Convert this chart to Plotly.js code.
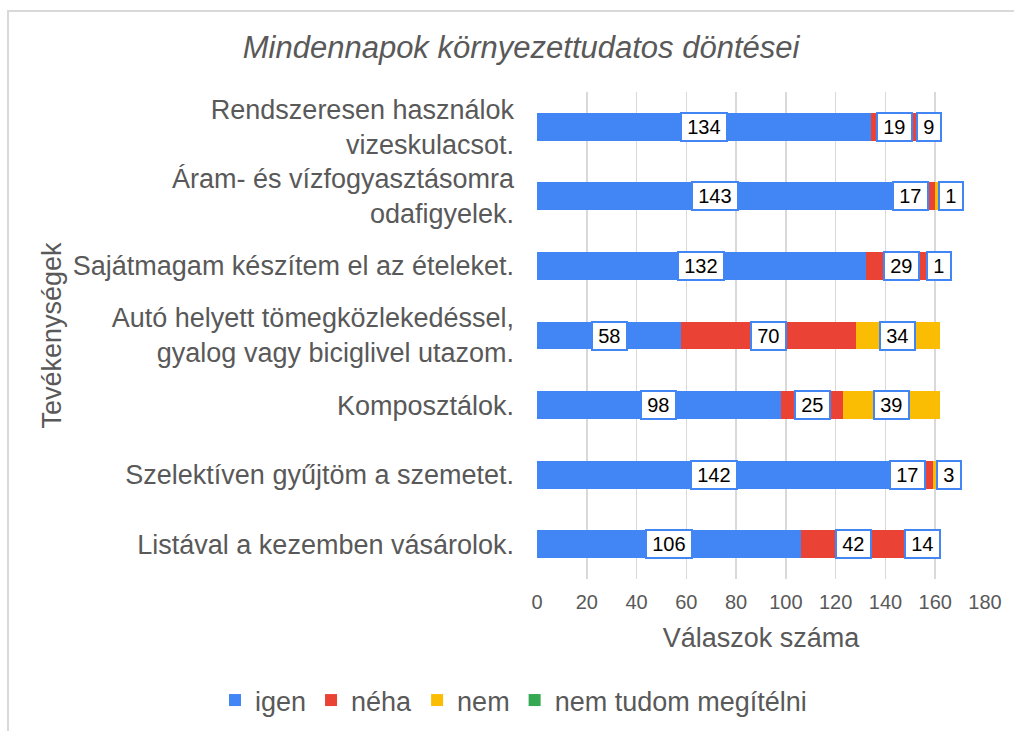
<!DOCTYPE html>
<html>
<head>
<meta charset="utf-8">
<script src="https://cdn.plot.ly/plotly-3.0.1.min.js"></script>
<style>
  html, body { margin: 0; padding: 0; background: #ffffff; overflow: hidden; }
  #wrap { position: absolute; left: 7px; top: 10px; border-left: 2px solid #d9d9d9; border-top: 2px solid #d9d9d9; }
  #chart { width: 1010px; height: 725px; }
</style>
</head>
<body>
<div id="wrap"><div id="chart"></div></div>
<script>
// ---- data ----
const categories = [
  "Rendszeresen használok<br>vizeskulacsot.",
  "Áram- és vízfogyasztásomra<br>odafigyelek.",
  "Sajátmagam készítem el az ételeket.",
  "Autó helyett tömegközlekedéssel,<br>gyalog vagy biciglivel utazom.",
  "Komposztálok.",
  "Szelektíven gyűjtöm a szemetet.",
  "Listával a kezemben vásárolok."
];
const seriesNames = ["igen", "néha", "nem", "nem tudom megítélni"];
const igen = [134, 143, 132, 58, 98, 142, 106];
const neha = [19, 17, 29, 70, 25, 17, 42];
const nem = [9, 1, 1, 34, 39, 3, 14];
const nemTudom = [0, 0, 0, 0, 0, 0, 0];
const xTicks = [0, 20, 40, 60, 80, 100, 120, 140, 160, 180];

const colors = ["#4285F4", "#EA4335", "#FBBC04", "#34A853"];
const allSeries = [igen, neha, nem, nemTudom];
const gray = "#595959";
const FONT = "Arial, 'Liberation Sans', sans-serif";

const traces = allSeries.map((vals, i) => ({
  type: "bar",
  orientation: "h",
  name: seriesNames[i],
  y: categories,
  x: vals,
  marker: { color: colors[i], line: { width: 0 } },
  hoverinfo: "skip"
}));

// ---- layout geometry ----
const W = 1010, H = 725;
const margin = { l: 528, r: 34, t: 80, b: 156 };
const plotW = W - margin.l - margin.r;
const plotH = H - margin.t - margin.b;
const xMax = 180;
const pxPerUnit = plotW / xMax;

// ---- data label annotations (boxed), with simple overlap avoidance ----
const annotations = [];
const labelFont = 20;
const digitW = labelFont * 0.556;
categories.forEach((cat, r) => {
  let cum = 0;
  let prev = null;
  allSeries.forEach((vals, s) => {
    const v = vals[r];
    const start = cum;
    cum += v;
    if (!v) return;
    const txt = String(v);
    const annW = txt.length * digitW + 8.5;
    const outer = annW + 6;
    const centerPx = (start + v / 2) * pxPerUnit;
    const ann = {
      xref: "x", yref: "y", x: start + v / 2, y: cat,
      text: txt, showarrow: false,
      font: { family: FONT, size: labelFont, color: "#000000" },
      bgcolor: "#ffffff", bordercolor: "#4285F4", borderwidth: 2, borderpad: 1,
      width: annW, height: 24, align: "center", valign: "middle",
      xshift: 0
    };
    let cPx = centerPx;
    if (prev) {
      const prevRight = prev.cPx + prev.outer / 2;
      if (cPx - outer / 2 < prevRight + 2) {
        prev.ann.xshift -= 4;
        const newPrevRight = prevRight - 4;
        const newLeft = newPrevRight + 10;
        const newC = newLeft + outer / 2;
        ann.xshift = newC - centerPx;
        cPx = newC;
      }
    }
    annotations.push(ann);
    prev = { ann: ann, cPx: cPx, outer: outer };
  });
});

// y-axis title as rotated annotation
annotations.push({
  xref: "paper", yref: "paper",
  x: (42 - margin.l) / plotW, y: 0.5,
  xanchor: "center", yanchor: "middle",
  text: "Tevékenységek", textangle: -90, showarrow: false,
  font: { family: FONT, size: 27, color: gray }
});

const layout = {
  width: W, height: H,
  margin: margin,
  paper_bgcolor: "#ffffff", plot_bgcolor: "#ffffff",
  barmode: "stack",
  bargap: 0.6,
  showlegend: true,
  title: {
    text: "Mindennapok környezettudatos döntései",
    font: { family: FONT, size: 31, color: gray, style: "italic" },
    xref: "container", yref: "container",
    x: 0.507, xanchor: "center",
    y: 1 - 35 / H, yanchor: "middle"
  },
  xaxis: {
    range: [0, xMax],
    tickvals: xTicks,
    ticktext: xTicks.map(String),
    showgrid: true, gridcolor: "#d9d9d9", gridwidth: 1.5,
    zeroline: false, showline: false,
    ticks: "", ticklabelstandoff: 9,
    tickfont: { family: FONT, size: 20, color: gray },
    title: { text: "Válaszok száma", font: { family: FONT, size: 27, color: gray }, standoff: 16 },
    fixedrange: true
  },
  yaxis: {
    type: "category",
    autorange: "reversed",
    showgrid: false, zeroline: false, showline: false,
    ticks: "", ticklabelstandoff: 22,
    tickfont: { family: FONT, size: 27, color: gray },
    fixedrange: true
  },
  legend: {
    orientation: "h",
    xref: "paper", yref: "paper",
    x: (206 - margin.l) / plotW, xanchor: "left",
    y: 1 - (691 - margin.t) / plotH, yanchor: "middle",
    font: { family: FONT, size: 27, color: gray },
    traceorder: "normal"
  },
  annotations: annotations,
  font: { family: FONT, color: gray }
};

Plotly.newPlot("chart", traces, layout, { displayModeBar: false, staticPlot: true });
</script>
</body>
</html>
